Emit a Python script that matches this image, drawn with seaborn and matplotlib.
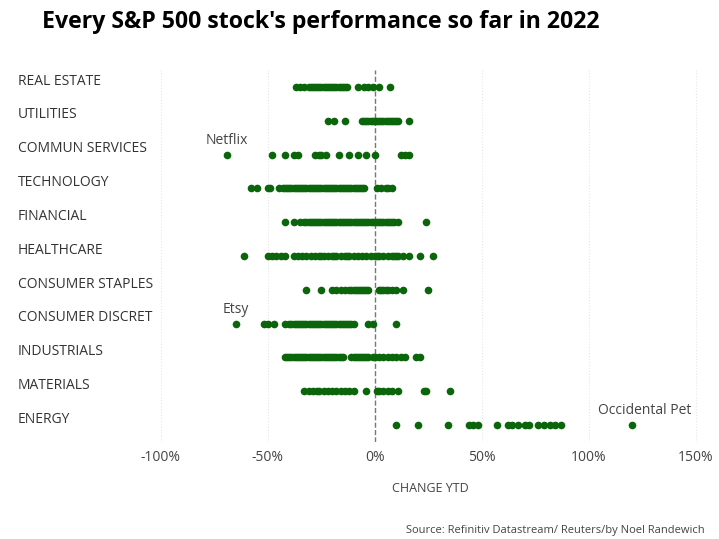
import matplotlib
matplotlib.use("Agg")
import matplotlib.pyplot as plt
import seaborn as sns
import pandas as pd

categories = ["REAL ESTATE","UTILITIES","COMMUN SERVICES","TECHNOLOGY","FINANCIAL","HEALTHCARE",
              "CONSUMER STAPLES","CONSUMER DISCRET","INDUSTRIALS","MATERIALS","ENERGY"]
real_estate = [-37,-35,-33,-31,-30,-29,-28,-27,-26,-25,-24,-23,-22,-21,-20,-19,-18,-17,-16,-15,-14,-13,-8,-5,-3,-1,2,7]
utilities = [-22,-19,-14,-6,-5,-4,-3,-2,-1,0,1,2,3,4,5,6,7,8,9,10,11,16]
commun = [-69,-48,-42,-38,-36,-28,-26,-25,-23,-17,-12,-8,-4,0,12,14,16]
technology = [-58,-55,-50,-49,-45,-43,-42,-41,-40,-39,-38,-37,-36,-35,-34,-33,-32,-31,-30,-29,-28,-27,-26,-25,-24,-23,-22,-21,-20,-19,-18,-17,-16,-15,-14,-13,-12,-11,-10,-9,-8,-7,-6,-5,1,3,5,6,8]
financial = [-42,-38,-35,-33,-32,-31,-30,-29,-28,-27,-26,-25,-24,-23,-22,-21,-20,-19,-18,-17,-16,-15,-14,-13,-12,-11,-10,-9,-8,-7,-6,-5,-4,-3,-2,-1,0,1,2,3,4,5,6,7,8,9,11,24]
healthcare = [-61,-50,-48,-46,-44,-42,-38,-36,-34,-32,-30,-28,-26,-25,-24,-22,-20,-19,-18,-16,-14,-13,-12,-10,-8,-6,-4,-2,0,1,2,4,6,8,9,10,11,13,16,21,27]
staples = [-32,-25,-20,-18,-16,-14,-12,-11,-10,-9,-8,-7,-6,-5,-4,-3,2,3,4,5,6,8,10,13,25]
discret = [-65,-52,-50,-47,-42,-40,-39,-38,-37,-36,-35,-34,-33,-32,-31,-30,-29,-28,-27,-26,-25,-24,-23,-22,-21,-20,-19,-18,-17,-16,-15,-14,-13,-12,-11,-10,-3,-1,10]
industrials = [-42,-41,-40,-39,-38,-37,-36,-35,-34,-33,-32,-31,-30,-29,-28,-27,-26,-25,-24,-23,-22,-21,-20,-19,-18,-17,-16,-15,-11,-10,-9,-8,-7,-6,-5,-4,-3,-1,0,2,4,6,8,10,12,14,19,21]
materials = [-33,-31,-29,-27,-26,-24,-22,-20,-18,-16,-14,-12,-10,-4,1,2,4,6,8,11,23,24,35]
energy = [10,20,34,44,46,48,57,62,64,67,70,72,76,79,82,84,87,120]
series = [real_estate,utilities,commun,technology,financial,healthcare,staples,discret,industrials,materials,energy]
annotations = [("Netflix",-69,2),("Etsy",-65,7),("Occidental Pet",120,10)]

df = pd.DataFrame([(c,v) for c,vals in zip(categories,series) for v in vals], columns=["sector","change"])

plt.rcParams['font.family'] = ['Open Sans','DejaVu Sans']
fig = plt.figure(figsize=(7.19,5.39), dpi=100)
ax = fig.add_axes([150/719, 97/539, 560/719, 372/539])
sns.stripplot(data=df, x="change", y="sector", order=categories, jitter=False, color="#0b660b",
              size=5.5, linewidth=0, ax=ax)
ax.set_xlim(-105.1,156.6)
ax.set_ylim(10.5,-0.5)
ax.set_xticks([-100,-50,0,50,100,150])
ax.set_xticklabels(["-100%","-50%","0%","50%","100%","150%"], color="#444444", fontsize=10)
ax.tick_params(axis="x", length=0, pad=6)
ax.set_yticks([])
ax.set_ylabel("")
ax.set_xlabel("CHANGE YTD", fontsize=9, color="#444444", labelpad=12)
for s in ax.spines.values():
    s.set_visible(False)
for t in [-100,-50,50,100,150]:
    ax.axvline(t, color="#e6e6e6", lw=0.8, ls=":", zorder=0)
ax.axvline(0, color="#777777", lw=1, ls="--", zorder=0)
import matplotlib.transforms as mt
tr = mt.blended_transform_factory(fig.transFigure, ax.transData)
for i,c in enumerate(categories):
    ax.text(18/719, i-0.17, c, transform=tr, fontsize=10, color="#333333", va="center", ha="left")
for name,v,i in annotations:
    ax.text(v if v<0 else v+6, i-0.2, name, fontsize=10, color="#444444", ha="center", va="bottom")
fig.text(42/719, 1-22/539, "Every S&P 500 stock's performance so far in 2022", fontsize=16.7,
         fontweight="bold", va="center", ha="left")
fig.text(705/719, 1-530/539, "Source: Refinitiv Datastream/ Reuters/by Noel Randewich", fontsize=8,
         color="#444444", ha="right", va="center")
fig.savefig("out.png", dpi=100)
